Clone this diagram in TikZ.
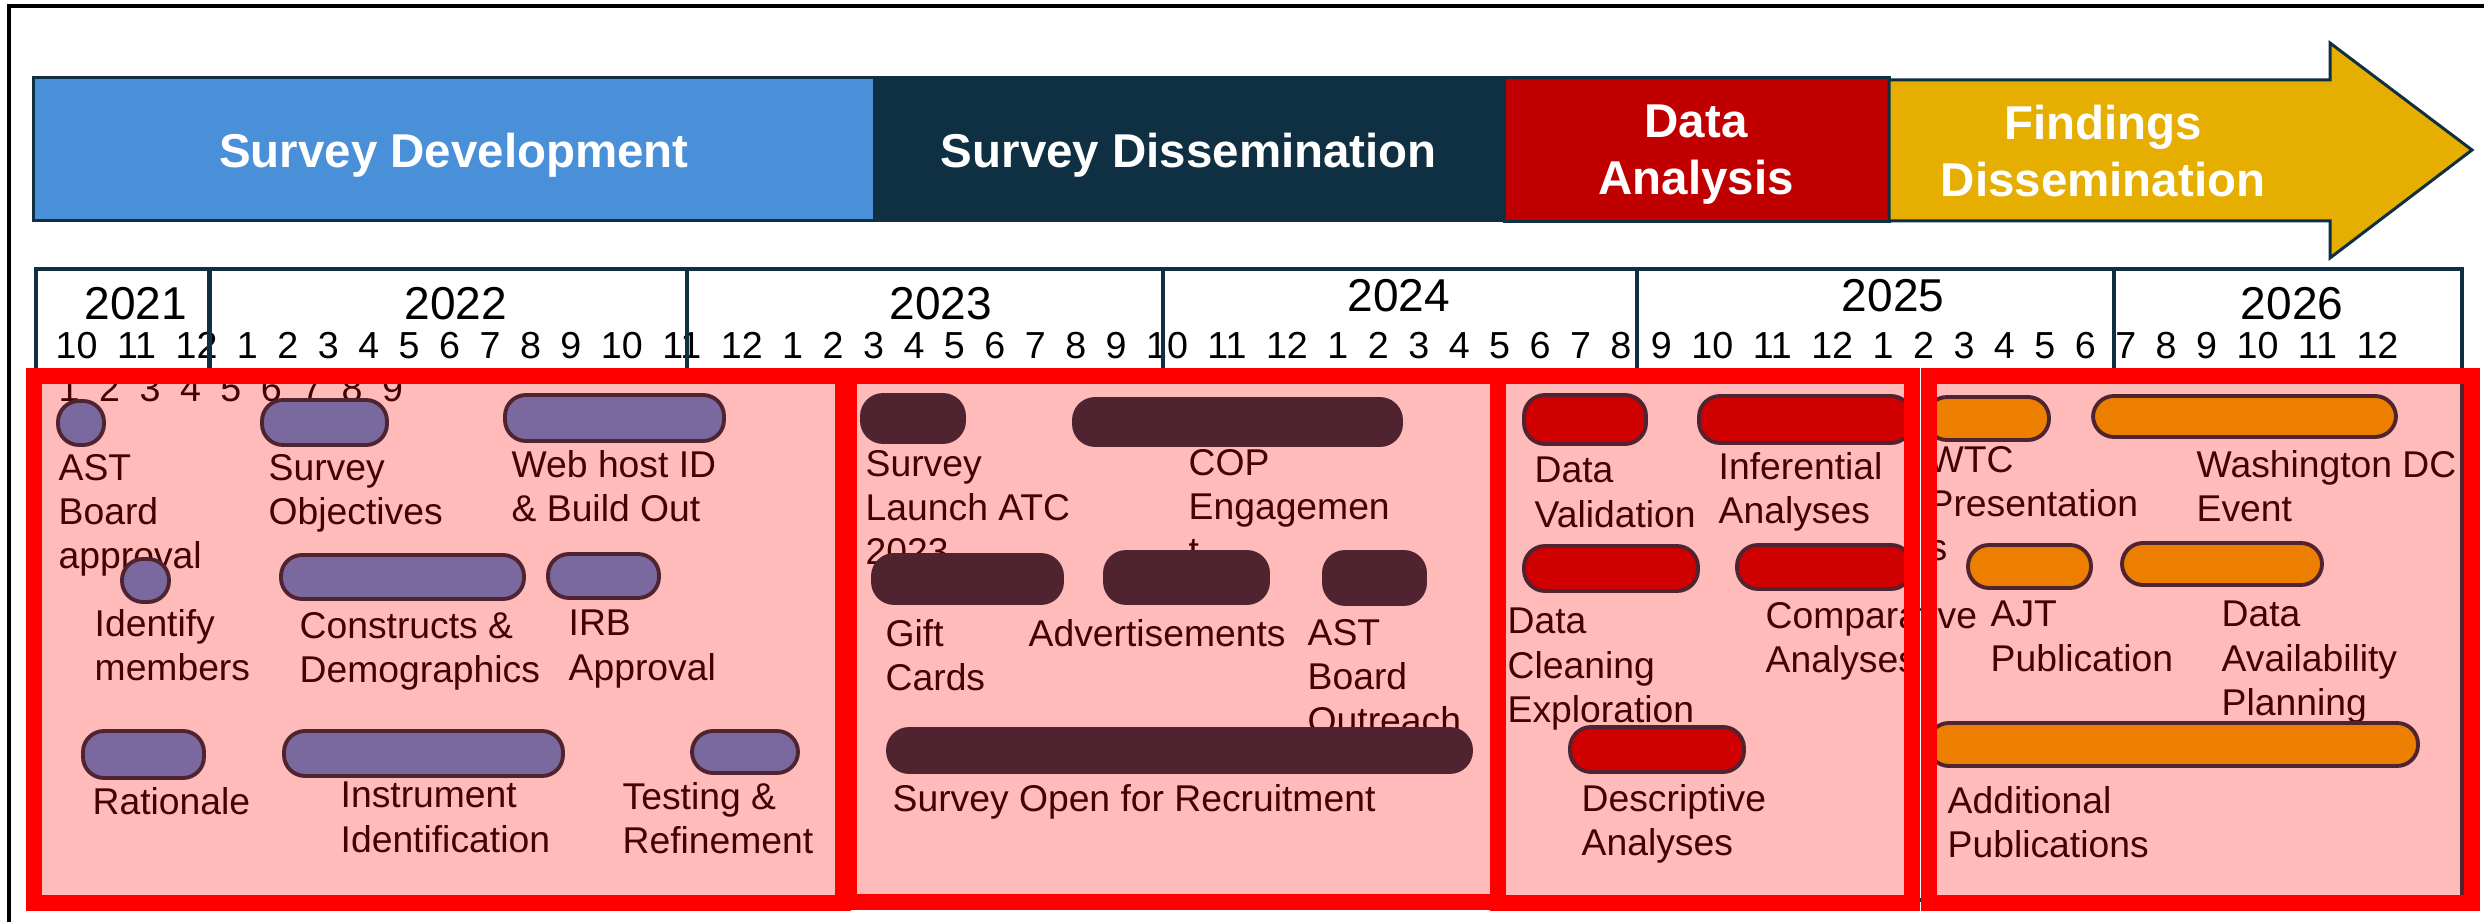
\documentclass[tikz,border=0pt]{standalone}
\usepackage{fontspec}
\setmainfont{Liberation Sans}

\definecolor{devblue}{RGB}{74,144,217}
\definecolor{dissnavy}{RGB}{14,48,66}
\definecolor{anared}{RGB}{192,0,0}
\definecolor{findgold}{RGB}{229,174,0}
\definecolor{hilite}{RGB}{255,0,0}

\tikzset{
  phase/.style={draw=dissnavy, line width=0.85pt},
  phasetext/.style={text=white, font=\fontsize{13.5}{16.2}\selectfont\bfseries, align=center, inner sep=0},
  yeartext/.style={font=\fontsize{13.1}{15.7}\selectfont, anchor=base, inner sep=0},
  monthtext/.style={font=\fontsize{10.7}{12.2}\selectfont, anchor=base west, inner sep=0},
  task/.style={draw=dissnavy, line width=1.1pt, rounded corners=0.21cm},
  tasklabel/.style={font=\fontsize{10.6}{12.6}\selectfont, align=left, anchor=north west, inner sep=0},
  stage/.style={draw=hilite, fill=hilite, fill opacity=0.27, line width=4.55pt}
}

\begin{document}
\begin{tikzpicture}[x=0.01cm, y=-0.01cm]
        \useasboundingbox (0,0) rectangle (2484,922);
        \draw[line width=1.15pt] (2484,5.7) -- (9.3,5.7) -- (9.3,922);

        % phase bar
        \filldraw[phase, fill=devblue] (33.5,77.5) rectangle (874,221);
        \filldraw[phase, fill=dissnavy] (874,77.5) rectangle (1504,221);
        \filldraw[phase, fill=anared] (1504,78) rectangle (1889,222);
        \filldraw[phase, fill=findgold] (1889,80) -- (2330,80) -- (2330,43) -- (2472,150)
                -- (2330,258) -- (2330,221) -- (1889,221) -- cycle;
        \node[phasetext, anchor=base] (dev) at (454,168) {Survey Development};
        \node[phasetext, anchor=base] (diss) at (1189,168) {Survey Dissemination};
        \node[phasetext, anchor=north] (ana) at (1696,104) {Data\\Analysis};
        \node[phasetext, anchor=north] (find) at (2103,104) {Findings\\Dissemination};

        % calendar
        \draw[dissnavy, line width=1.15pt] (36,269) rectangle (2462,900);
        \node[monthtext] (months) at (55,359) {\spaceskip=5.55pt\relax 10 11 12 1 2 3 4 5 6 7 8 9 10 11 12
                1 2 3 4 5 6 7 8 9 10 11 12 1 2 3 4 5 6 7 8 9 10 11 12 1 2 3 4 5 6 7 8 9 10 11 12};
        \node[monthtext] (monthsb) at (58,402) {\spaceskip=5.55pt\relax 1 2 3 4 5 6 7 8 9};
        \foreach \yr/\xc/\yb in {2021/136/320, 2022/456/320, 2023/941/320, 2024/1399/312, 2025/1893/312, 2026/2292/320}
                \node[yeartext] (y\yr) at (\xc,\yb) {\yr};
        \foreach \xd in {209.5, 687, 1163, 1637, 2114}
                \draw[dissnavy, line width=1.15pt] (\xd,269) -- (\xd,370);

        % task labels (x / baseline)
        \foreach \nm/\xl/\yl/\txt in {ast/58/480/{AST\\Board\\approval}, obj/268/480/{Survey\\Objectives},
                web/511/476/{Web host ID\\\& Build Out}, idm/94/635/{Identify\\members},
                con/299/638/{Constructs \&\\Demographics}, irb/568/636/{IRB\\Approval},
                rat/92/813/{Rationale}, ins/340/808/{Instrument\\Identification}, tst/622/808/{Testing \&\\Refinement},
                lau/865/476/{Survey\\Launch ATC\\2023}, cop/1188/475/{COP\\Engagemen\\t},
                gif/885/645/{Gift\\Cards}, adv/1028/645/{Advertisements}, aso/1307/645/{AST\\Board\\Outreach},
                opn/892/810/{Survey Open for Recruitment},
                val/1534/483/{Data\\Validation}, inf/1718/478/{Inferential\\Analyses},
                cln/1507/634/{Data\\Cleaning\\Exploration}, cmp/1765/627/{Comparative\\Analyses},
                des/1581/810/{Descriptive\\Analyses},
                wtc/1928/472/{WTC\\Presentation\\s}, wdc/2196/476/{Washington DC\\Event},
                ajt/1990/627/{AJT\\Publication}, avl/2221/627/{Data\\Availability\\Planning},
                pub/1947/812/{Additional\\Publications}}
                \node[tasklabel] (\nm) at (\xl,\yl-26.6) {\txt};

        % task bars
        \foreach \xa/\ya/\xb/\yb in {58/401/104/445, 262/400/387/445, 505/395/724/441, 122/559/169/602,
                281/555/524/599, 548/554/659/598, 83/731/204/778, 284/731/563/776, 692/731/798/773}
                \draw[task, fill=devblue] (\xa,\ya) rectangle (\xb,\yb);
        \foreach \xa/\ya/\xb/\yb in {862/395/964/442, 1074/399/1401/445, 873/555/1062/603,
                1105/552/1268/603, 1324/552/1425/604, 888/729/1471/772}
                \draw[task, fill=dissnavy] (\xa,\ya) rectangle (\xb,\yb);
        \foreach \xa/\ya/\xb/\yb in {1524/395/1646/444, 1699/396/1912/443, 1524/546/1698/591,
                1737/545/1912/589, 1570/727/1744/772}
                \draw[task, fill=anared] (\xa,\ya) rectangle (\xb,\yb);
        \foreach \xa/\ya/\xb/\yb in {1926/397/2049/440, 2093/396/2396/437, 1968/545/2091/588,
                2122/543/2322/585, 1928/723/2418/766}
                \draw[task, fill=findgold] (\xa,\ya) rectangle (\xb,\yb);

        % highlighted stages
        \draw[stage] (34,376) rectangle (843,903);
        \draw[stage] (849,376) rectangle (1498,902);
        \draw[stage] (1498,376) rectangle (1911.5,903);
        \draw[stage] (1928.5,376) rectangle (2471.5,903);
\end{tikzpicture}
\end{document}
